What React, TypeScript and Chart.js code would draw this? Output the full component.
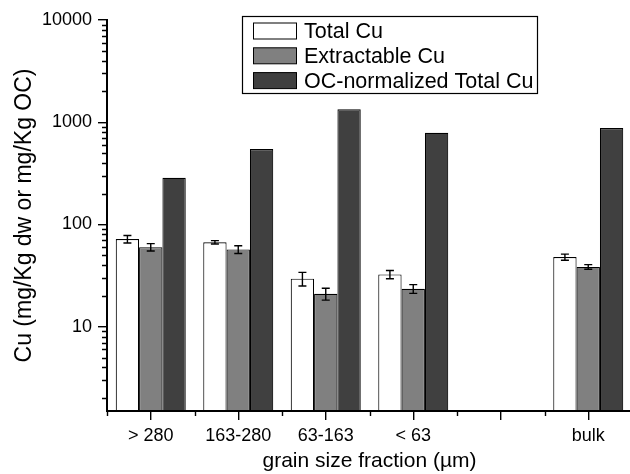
import React, { useEffect, useRef } from 'react';
import { Chart, registerables } from 'chart.js';

Chart.register(...registerables);

const categories = ['> 280', '163-280', '63-163', '< 63', '', 'bulk'];
const totalCu = [72, 67, 29.5, 32.5, null, 48];
const totalCuErr = [6, 2.5, 4.5, 3, null, 3.3];
const extractableCu = [60, 57, 21, 23.5, null, 38.5];
const extractableCuErr = [5, 5, 2.8, 2.3, null, 2];
const ocNormalizedCu = [286, 547, 1337, 789, null, 877];
const yTickValues = [10, 100, 1000, 10000];
const yMin = 1.5;
const yMax = 10000;

const FONT = "'Liberation Sans', Arial, Helvetica, sans-serif";

const errorBarPlugin = {
  id: 'errorBars',
  afterDatasetsDraw(chart: any) {
    const ctx = chart.ctx;
    const yScale = chart.scales.y;
    chart.data.datasets.forEach((ds: any, di: number) => {
      if (!ds.errors) return;
      const meta = chart.getDatasetMeta(di);
      meta.data.forEach((el: any, i: number) => {
        const v = ds.data[i];
        const e = ds.errors[i];
        if (v == null || e == null) return;
        const x = el.x;
        const yTop = yScale.getPixelForValue(v + e);
        const yBot = yScale.getPixelForValue(v - e);
        ctx.save();
        ctx.strokeStyle = '#000';
        ctx.lineWidth = 1.4;
        ctx.beginPath();
        ctx.moveTo(x, yTop);
        ctx.lineTo(x, yBot);
        ctx.moveTo(x - 4, yTop);
        ctx.lineTo(x + 4, yTop);
        ctx.moveTo(x - 4, yBot);
        ctx.lineTo(x + 4, yBot);
        ctx.stroke();
        ctx.restore();
      });
    });
  },
};

const minorTicksPlugin = {
  id: 'minorTicks',
  afterDraw(chart: any) {
    const ctx = chart.ctx;
    const { x: xScale, y: yScale } = chart.scales;
    const area = chart.chartArea;
    ctx.save();
    ctx.strokeStyle = '#000';
    ctx.lineWidth = 1.4;
    ctx.beginPath();
    for (let d = 1; d < yMax; d *= 10) {
      for (let m = 2; m <= 9; m++) {
        const v = m * d;
        if (v <= yMin || v >= yMax) continue;
        const py = Math.round(yScale.getPixelForValue(v)) + 0.5;
        ctx.moveTo(area.left - 5, py);
        ctx.lineTo(area.left, py);
      }
    }
    for (let i = 0; i <= categories.length; i++) {
      const px = Math.round(xScale.getPixelForValue(i - 0.5)) + 0.5;
      ctx.moveTo(px, area.bottom);
      ctx.lineTo(px, area.bottom + 5);
    }
    ctx.stroke();
    ctx.restore();
  },
};

const legendPlugin = {
  id: 'boxLegend',
  afterDraw(chart: any) {
    const ctx = chart.ctx;
    const left = 242;
    const top = 16;
    const width = 295;
    const height = 77;
    ctx.save();
    ctx.fillStyle = '#fff';
    ctx.fillRect(left, top, width, height);
    ctx.strokeStyle = '#000';
    ctx.lineWidth = 1.2;
    ctx.strokeRect(left + 0.5, top + 0.5, width, height);
    ctx.font = `21.5px ${FONT}`;
    ctx.textBaseline = 'middle';
    ctx.textAlign = 'left';
    chart.data.datasets.forEach((ds: any, i: number) => {
      const cy = 31 + i * 24.8;
      ctx.fillStyle = ds.swatch;
      ctx.fillRect(253.5, cy - 8, 43, 16);
      ctx.strokeStyle = '#000';
      ctx.lineWidth = 1;
      ctx.strokeRect(253.5, cy - 8, 43, 16);
      ctx.fillStyle = '#000';
      ctx.fillText(ds.label, 304, cy + 1);
    });
    ctx.restore();
  },
};

const barBorder = (c: any) => (c.raw == null ? 0 : 1.1);
const barFill = (color: string) => (c: any) => (c.raw == null ? 'rgba(0,0,0,0)' : color);

export default function App() {
  const canvasRef = useRef<HTMLCanvasElement | null>(null);

  useEffect(() => {
    if (!canvasRef.current) return;
    Chart.defaults.font.family = FONT;
    Chart.defaults.color = '#000';
    const chart = new Chart(canvasRef.current, {
      type: 'bar',
      data: {
        labels: categories,
        datasets: [
          {
            label: 'Total Cu',
            data: totalCu,
            errors: totalCuErr,
            swatch: '#ffffff',
            backgroundColor: barFill('#ffffff'),
            borderColor: '#000000',
            borderWidth: barBorder,
          } as any,
          {
            label: 'Extractable Cu',
            data: extractableCu,
            errors: extractableCuErr,
            swatch: '#808080',
            backgroundColor: barFill('#808080'),
            borderColor: '#000000',
            borderWidth: barBorder,
          } as any,
          {
            label: 'OC-normalized Total Cu',
            data: ocNormalizedCu,
            swatch: '#404040',
            backgroundColor: barFill('#404040'),
            borderColor: '#000000',
            borderWidth: barBorder,
          } as any,
        ],
      },
      options: {
        responsive: false,
        animation: false,
        layout: { padding: { left: 0, top: 20, right: 8, bottom: 0 } },
        datasets: { bar: { categoryPercentage: 0.8, barPercentage: 1.0 } },
        plugins: {
          legend: { display: false },
          tooltip: { enabled: false },
        },
        scales: {
          x: {
            type: 'category',
            offset: true,
            grid: {
              display: true,
              offset: false,
              drawOnChartArea: false,
              drawTicks: true,
              tickLength: 9,
              color: '#000',
              lineWidth: 1.4,
            },
            border: { display: true, color: '#000', width: 2, z: 1 },
            ticks: {
              font: { size: 18, family: FONT },
              color: '#000',
              padding: 5,
              maxRotation: 0,
              autoSkip: false,
            },
            title: {
              display: true,
              text: 'grain size fraction (µm)',
              font: { size: 21, family: FONT },
              color: '#000',
              padding: { top: 0, bottom: 0 },
            },
            afterFit(scale: any) {
              scale.height = 63;
              scale.paddingLeft = 0;
              scale.paddingRight = 0;
            },
          },
          y: {
            type: 'logarithmic',
            min: yMin,
            max: yMax,
            grid: {
              display: true,
              drawOnChartArea: false,
              drawTicks: true,
              tickLength: 9,
              color: '#000',
              lineWidth: 1.4,
            },
            border: { display: true, color: '#000', width: 2, z: 1 },
            afterBuildTicks(scale: any) {
              scale.ticks = yTickValues.map((v) => ({ value: v }));
            },
            ticks: {
              font: { size: 18, family: FONT },
              color: '#000',
              padding: 6,
              callback: (v: any) => String(v),
            },
            title: {
              display: true,
              text: 'Cu (mg/Kg dw or mg/Kg OC)',
              font: { size: 23, family: FONT },
              color: '#000',
              padding: { top: 11, bottom: 0 },
            },
            afterFit(scale: any) {
              scale.width = 107;
              scale.paddingTop = 0;
              scale.paddingBottom = 0;
            },
          },
        },
      } as any,
      plugins: [errorBarPlugin, minorTicksPlugin, legendPlugin],
    });
    return () => chart.destroy();
  }, []);

  return (
    <div
      style={{
        position: 'fixed',
        left: 0,
        top: 0,
        width: 630,
        height: 474,
        overflow: 'hidden',
        background: '#fff',
      }}
    >
      <canvas ref={canvasRef} width={640} height={474} style={{ width: 640, height: 474, display: 'block' }} />
    </div>
  );
}
